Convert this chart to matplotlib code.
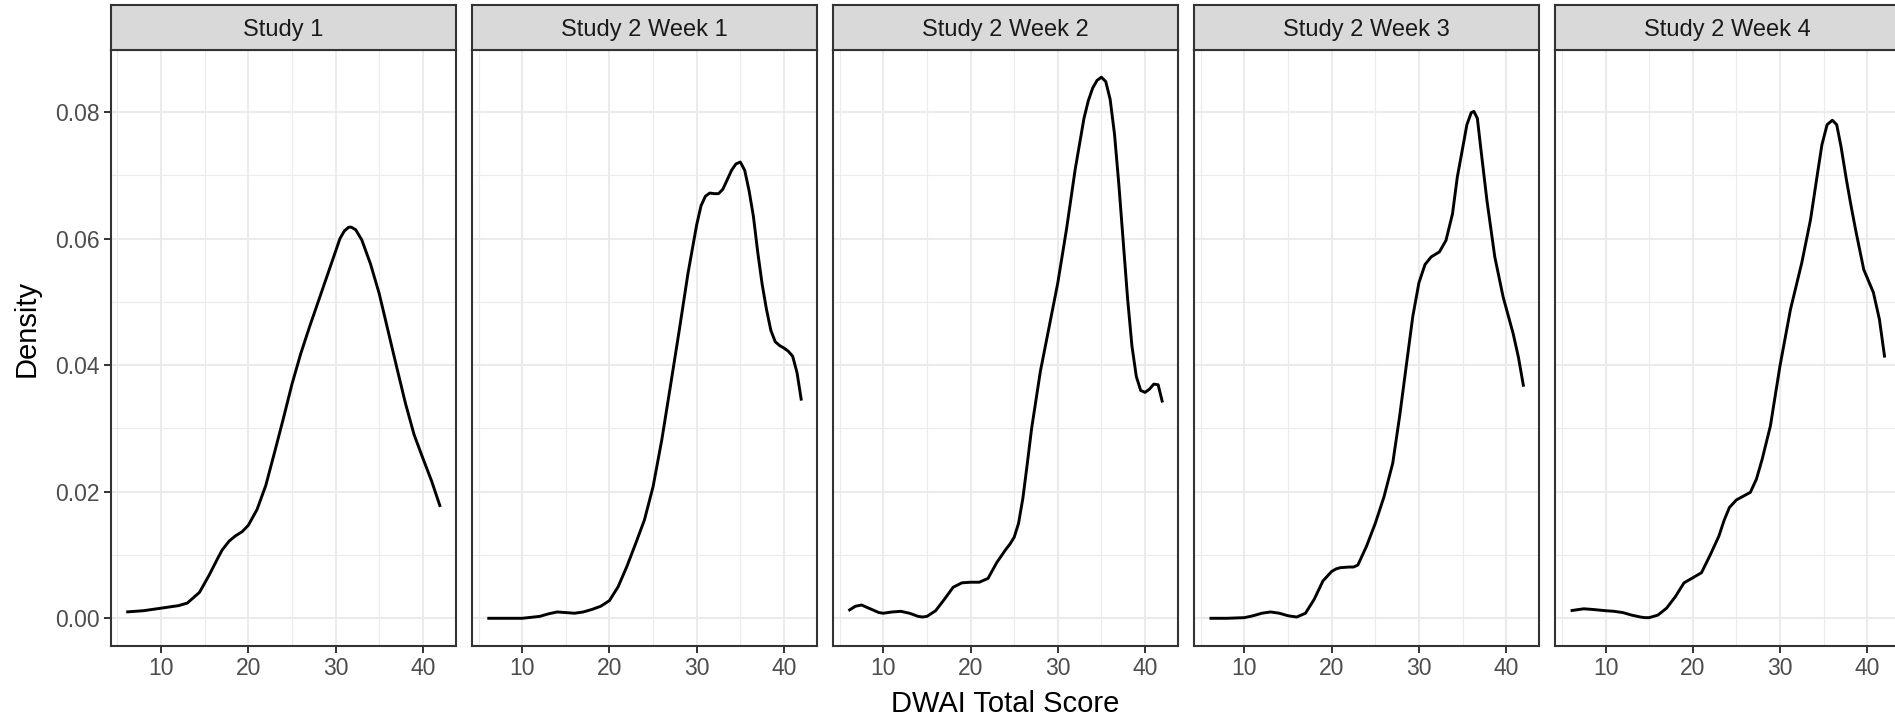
import matplotlib
matplotlib.use("Agg")
import matplotlib.pyplot as plt
from matplotlib.ticker import FixedLocator

plt.rcParams['font.family'] = ['Liberation Sans', 'DejaVu Sans']

panel_titles = ["Study 1", "Study 2 Week 1", "Study 2 Week 2", "Study 2 Week 3", "Study 2 Week 4"]

s1_x = [6, 8, 10, 12, 13, 14.4, 15.5, 16.5, 17, 17.8, 18.5, 19.3, 20, 21, 22, 23, 24, 25, 26, 27, 28, 29, 30, 30.5, 31, 31.5, 31.8, 32.3, 33, 34, 35, 36, 37, 38, 39, 40, 41, 42]
s1_y = [0.0010, 0.0012, 0.0016, 0.0020, 0.0024, 0.0041, 0.0068, 0.0095, 0.0108, 0.0122, 0.0130, 0.0137, 0.0147, 0.0172, 0.0210, 0.0262, 0.0315, 0.0370, 0.0418, 0.0460, 0.0500, 0.0540, 0.0580, 0.0600, 0.0612, 0.0618, 0.0618, 0.0614, 0.0598, 0.0560, 0.0513, 0.0455, 0.0397, 0.0340, 0.0290, 0.0253, 0.0217, 0.0176]

w1_x = [6, 8, 10, 12, 13, 14, 15, 16, 17, 18, 19, 20, 21, 22, 23, 24, 25, 26, 27, 28, 29, 30, 30.5, 31, 31.5, 32, 32.5, 33, 33.5, 34, 34.5, 35, 35.5, 36, 36.5, 37, 37.5, 38, 38.5, 39, 39.5, 40, 40.5, 41, 41.5, 42]
w1_y = [0.0, 0.0, 0.0, 0.0003, 0.0007, 0.0010, 0.0009, 0.0008, 0.0010, 0.0014, 0.0019, 0.0028, 0.0050, 0.0082, 0.0118, 0.0155, 0.0208, 0.0282, 0.0368, 0.0455, 0.0545, 0.0622, 0.0652, 0.0667, 0.0672, 0.0671, 0.0671, 0.0678, 0.0693, 0.0708, 0.0718, 0.0721, 0.0708, 0.0676, 0.0635, 0.0578, 0.0528, 0.0488, 0.0455, 0.0437, 0.0431, 0.0427, 0.0422, 0.0414, 0.0388, 0.0344]

w2_x = [6, 6.8, 7.5, 8.5, 9.5, 10, 11, 12, 13, 14, 14.5, 15, 16, 17, 18, 19, 20, 21, 22, 23, 24, 24.5, 25, 25.5, 26, 26.5, 27, 28, 29, 30, 31, 32, 33, 33.5, 34, 34.5, 35, 35.5, 36, 36.5, 37, 37.5, 38, 38.5, 39, 39.5, 40, 40.5, 41, 41.5, 42]
w2_y = [0.0012, 0.0019, 0.0021, 0.0015, 0.0009, 0.0008, 0.0010, 0.0011, 0.0008, 0.0003, 0.0002, 0.0003, 0.0012, 0.0030, 0.0049, 0.0056, 0.0057, 0.0057, 0.0063, 0.0088, 0.0108, 0.0117, 0.0128, 0.0150, 0.0190, 0.0244, 0.0300, 0.0390, 0.0460, 0.0530, 0.0615, 0.0710, 0.0790, 0.0818, 0.0838, 0.0850, 0.0855, 0.0848, 0.0820, 0.0765, 0.0685, 0.0595, 0.0505, 0.0430, 0.0382, 0.0360, 0.0357, 0.0362, 0.0370, 0.0369, 0.0341]

w3_x = [6, 8, 10, 11, 12, 13, 14, 15, 16, 17, 18, 19, 20, 20.5, 21, 22, 22.5, 23, 24, 25, 26, 27, 27.8, 28.6, 29.3, 30, 30.7, 31.4, 32.35, 33.1, 33.85, 34.4, 35, 35.5, 36, 36.3, 36.7, 37.1, 37.8, 38.7, 39.65, 40.8, 41.4, 42]
w3_y = [0.0, 0.0, 0.0001, 0.0004, 0.0008, 0.0010, 0.0008, 0.0004, 0.0002, 0.0008, 0.0030, 0.0059, 0.0074, 0.0078, 0.0080, 0.0081, 0.0081, 0.0084, 0.0114, 0.0150, 0.0192, 0.0245, 0.0320, 0.0404, 0.0477, 0.0530, 0.0559, 0.0571, 0.0579, 0.0597, 0.0639, 0.0697, 0.0742, 0.0780, 0.0799, 0.0801, 0.0790, 0.0742, 0.0660, 0.0571, 0.0508, 0.0450, 0.0413, 0.0366]

w4_x = [6, 7, 7.5, 8.5, 10, 11, 12, 13, 14, 14.5, 15, 16, 17, 18, 19, 20, 21, 22, 23, 23.6, 24.2, 25, 25.8, 26.6, 27.3, 27.95, 28.9, 30, 31.2, 32.5, 33.5, 34.2, 34.8, 35.4, 36, 36.5, 37, 37.6, 38.1, 38.65, 39.6, 40.7, 41.4, 42]
w4_y = [0.0012, 0.0014, 0.0015, 0.0014, 0.0012, 0.0011, 0.0009, 0.0005, 0.0002, 0.0001, 0.0001, 0.0005, 0.0016, 0.0034, 0.0056, 0.0064, 0.0072, 0.0100, 0.0130, 0.0155, 0.0175, 0.0187, 0.0193, 0.0199, 0.0220, 0.0251, 0.0304, 0.0399, 0.0488, 0.0562, 0.0630, 0.0694, 0.0748, 0.0780, 0.0787, 0.0780, 0.0745, 0.0694, 0.0655, 0.0615, 0.0551, 0.0515, 0.0472, 0.0412]

series_x = [s1_x, w1_x, w2_x, w3_x, w4_x]
series_y = [s1_y, w1_y, w2_y, w3_y, w4_y]

x_ticks = [10, 20, 30, 40]
y_ticks = [0.00, 0.02, 0.04, 0.06, 0.08]
y_tick_labels = ["0.00", "0.02", "0.04", "0.06", "0.08"]
x_label = "DWAI Total Score"
y_label = "Density"

W, H = 1895, 720
fig = plt.figure(figsize=(W / 100, H / 100), dpi=100)

left0 = 110.5
step = 361.1
pw = 345.5
p_top = 50.0
p_bot = 645.5
s_top = 4.5

border_c = "#333333"
grid_c = "#EBEBEB"

for i in range(5):
    lx = left0 + i * step
    ax = fig.add_axes([lx / W, (H - p_bot) / H, pw / W, (p_bot - p_top) / H])
    ax.set_xlim(4.2, 43.8)
    ax.set_ylim(-0.0043, 0.0898)
    ax.xaxis.set_major_locator(FixedLocator(x_ticks))
    ax.xaxis.set_minor_locator(FixedLocator([5, 15, 25, 35]))
    ax.yaxis.set_major_locator(FixedLocator(y_ticks))
    ax.yaxis.set_minor_locator(FixedLocator([0.01, 0.03, 0.05, 0.07]))
    ax.grid(which="major", color=grid_c, lw=1.5)
    ax.grid(which="minor", color=grid_c, lw=0.8)
    ax.set_axisbelow(True)
    for sp in ax.spines.values():
        sp.set_color(border_c)
        sp.set_linewidth(1.5)
    ax.tick_params(which="major", length=5, width=1.4, color=border_c,
                   labelsize=16.5, labelcolor="#4D4D4D", pad=3)
    ax.tick_params(which="minor", length=0)
    ax.set_xticklabels([str(t) for t in x_ticks])
    if i == 0:
        ax.set_yticklabels(y_tick_labels)
    else:
        ax.tick_params(axis="y", which="major", length=0, labelleft=False)
    ax.plot(series_x[i], series_y[i], color="black", lw=2.1, solid_capstyle="butt",
            solid_joinstyle="round")

    # strip
    sax = fig.add_axes([lx / W, (H - p_top) / H, pw / W, (p_top - s_top) / H])
    sax.set_facecolor("#D9D9D9")
    sax.set_xticks([])
    sax.set_yticks([])
    for sp in sax.spines.values():
        sp.set_color(border_c)
        sp.set_linewidth(1.5)
    sax.text(0.5, 0.5, panel_titles[i], transform=sax.transAxes, ha="center",
             va="center_baseline", fontsize=17, color="#1A1A1A")

fig.text((left0 + 4 * step + pw + left0) / 2 / W, (H - 712) / H, x_label,
         ha="center", va="baseline", fontsize=21, color="black")
fig.text(27 / W, (H - 328) / H, y_label, rotation=90, ha="center", va="center",
         fontsize=21, color="black")

fig.savefig("out.png", dpi=100)
